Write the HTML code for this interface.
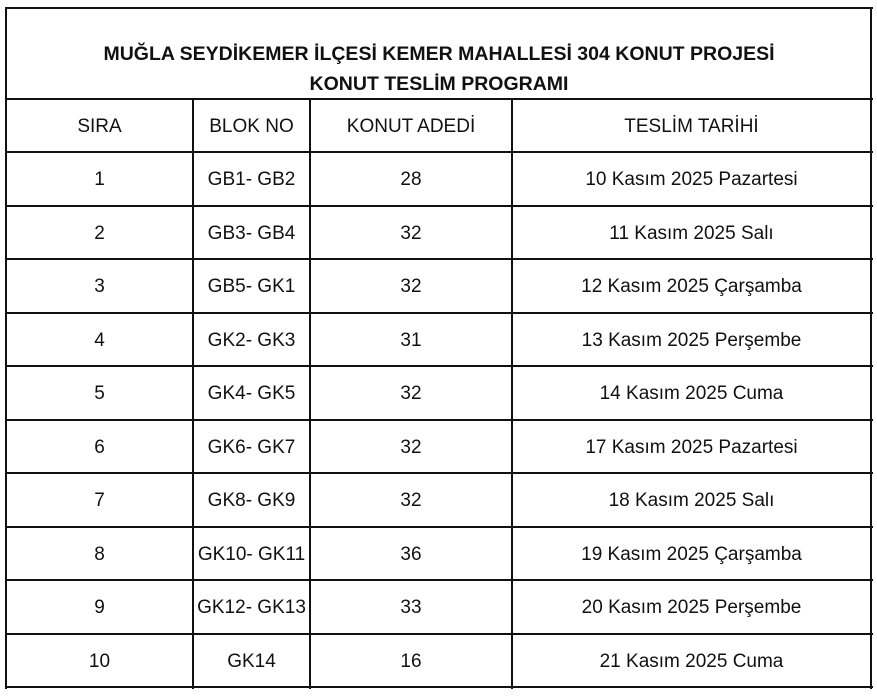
<!DOCTYPE html>
<html><head><meta charset="utf-8"><style>
body{margin:0;width:877px;height:696px;background:#fff;position:relative;overflow:hidden;font-family:"Liberation Sans",sans-serif;color:#111}
.h{position:absolute;background:#111;height:2px}
.v{position:absolute;background:#111;width:2px}
.t{position:absolute;text-align:center;font-size:19px;line-height:22px;white-space:nowrap}
.ti{position:absolute;left:7px;width:864px;text-align:center;font-weight:bold;font-size:19.5px;line-height:22px}
</style></head><body>
<div class="ti" style="top:43px">MUĞLA SEYDİKEMER İLÇESİ KEMER MAHALLESİ 304 KONUT PROJESİ</div>
<div class="ti" style="top:73px">KONUT TESLİM PROGRAMI</div>
<div id="g"></div>
<script>
var g=document.getElementById('g'),h='';
var rows=[99,152,206,259,313,366,420,473,527,580,634,687];
h+='<div class="h" style="left:5px;width:868px;top:7px"></div>';
rows.forEach(function(y){h+='<div class="h" style="left:5px;width:868px;top:'+(y-1)+'px"></div>';});
h+='<div class="v" style="left:5px;top:7px;height:682px"></div>';
h+='<div class="v" style="left:870px;top:7px;height:682px"></div>';
[192,309,511].forEach(function(x){h+='<div class="v" style="left:'+x+'px;top:99px;height:590px"></div>';});
var cols=[[7,192],[194,309],[311,511],[513,870]];
var data=[["SIRA","BLOK NO","KONUT ADEDİ","TESLİM TARİHİ"],
["1","GB1- GB2","28","10 Kasım 2025 Pazartesi"],
["2","GB3- GB4","32","11 Kasım 2025 Salı"],
["3","GB5- GK1","32","12 Kasım 2025 Çarşamba"],
["4","GK2- GK3","31","13 Kasım 2025 Perşembe"],
["5","GK4- GK5","32","14 Kasım 2025 Cuma"],
["6","GK6- GK7","32","17 Kasım 2025 Pazartesi"],
["7","GK8- GK9","32","18 Kasım 2025 Salı"],
["8","GK10- GK11","36","19 Kasım 2025 Çarşamba"],
["9","GK12- GK13","33","20 Kasım 2025 Perşembe"],
["10","GK14","16","21 Kasım 2025 Cuma"]];
data.forEach(function(r,i){var mid=(rows[i]+rows[i+1])/2;
r.forEach(function(s,j){h+='<div class="t" style="left:'+cols[j][0]+'px;width:'+(cols[j][1]-cols[j][0])+'px;top:'+(mid-10)+'px">'+s+'</div>';});});
g.innerHTML=h;
</script>
</body></html>
